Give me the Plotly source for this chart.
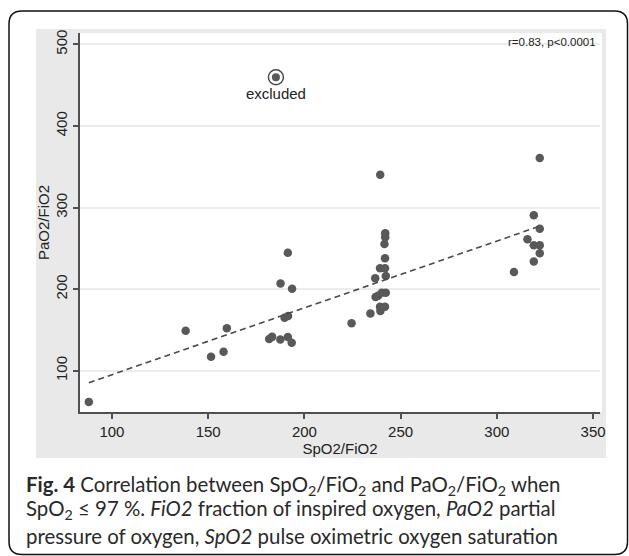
import numpy as np
import plotly.graph_objects as go

# ---- data ----
spo2_fio2 = [88.0, 138.3, 151.5, 158.0, 159.7, 181.7, 183.2, 187.5, 187.6, 189.7,
             191.5, 191.4, 191.4, 193.4, 193.6, 224.5, 234.3, 236.8, 237.0, 238.3,
             239.4, 239.3, 241.9, 242.3, 241.9, 241.6, 242.0, 242.0, 240.2, 242.3,
             239.3, 241.9, 239.5, 308.9, 315.9, 319.2, 319.2, 322.3, 322.3, 322.3,
             319.2, 322.3]
pao2_fio2 = [61.8, 149.0, 117.0, 123.3, 152.2, 138.8, 141.5, 138.3, 206.8, 164.8,
             167.0, 244.7, 141.3, 134.3, 200.6, 158.1, 170.2, 213.3, 190.3, 192.0,
             340.3, 225.5, 225.5, 216.0, 237.8, 255.3, 263.5, 268.4, 195.6, 195.6,
             178.5, 178.5, 173.2, 221.0, 261.1, 290.6, 253.7, 274.1, 253.7, 243.9,
             234.0, 360.8]
excluded_x = [185.2]
excluded_y = [459.8]
excluded_label = ["excluded"]
x_ticks = [100, 150, 200, 250, 300, 350]
y_ticks = [100, 200, 300, 400, 500]
stat_text = "r=0.83, p<0.0001"

# ---- geometry ----
W, H = 629, 556
L, R, T, B = 80, 29, 33, 144
PW, PH = W - L - R, H - T - B


def px(xp):
    return (xp - L) / PW


def py(yp):
    return (H - B - yp) / PH


# regression line through included points
slope, intercept = np.polyfit(spo2_fio2, pao2_fio2, 1)
xf = np.array([min(spo2_fio2), max(spo2_fio2)])
yf = slope * xf + intercept

fig = go.Figure()
fig.add_trace(go.Scatter(x=spo2_fio2, y=pao2_fio2, mode="markers",
                         marker=dict(size=8.5, color="#595959"), showlegend=False))
fig.add_trace(go.Scatter(x=xf, y=yf, mode="lines",
                         line=dict(color="#4a4a4a", width=1.6, dash="6px,4px"),
                         showlegend=False))
fig.add_trace(go.Scatter(x=excluded_x, y=excluded_y, mode="markers+text",
                         text=excluded_label, textposition="bottom center",
                         textfont=dict(family="Liberation Sans", size=15, color="#222"),
                         marker=dict(size=15, color="rgba(0,0,0,0)",
                                     line=dict(color="#4a4a4a", width=1.5)),
                         showlegend=False))
fig.add_trace(go.Scatter(x=excluded_x, y=excluded_y, mode="markers",
                         marker=dict(size=8, color="#595959"), showlegend=False))

axis_common = dict(showline=True, linecolor="#505050", linewidth=1.5,
                   ticks="outside", ticklen=5, tickwidth=1.5, tickcolor="#505050",
                   zeroline=False,
                   tickfont=dict(family="Liberation Sans", size=15, color="#222"))

fig.update_xaxes(range=[83.4, 353.6], tickvals=x_ticks, showgrid=False,
                 title=dict(text="SpO2/FiO2", standoff=2,
                            font=dict(family="Liberation Sans", size=15, color="#222")),
                 **axis_common)
fig.update_yaxes(range=[49.4, 514], tickvals=y_ticks, showgrid=True,
                 gridcolor="#ececec", gridwidth=1.5, tickangle=-90,
                 title=dict(text="PaO2/FiO2", standoff=0,
                            font=dict(family="Liberation Sans", size=15, color="#222")),
                 **axis_common)

shapes = [
    dict(type="rect", xref="paper", yref="paper", layer="below",
         x0=px(36), x1=px(606), y0=py(458), y1=py(29),
         fillcolor="#e9e9e9", line=dict(width=0)),
    dict(type="rect", xref="paper", yref="paper", layer="below",
         x0=px(80), x1=px(602), y0=py(412), y1=py(33),
         fillcolor="white", line=dict(width=0)),
]
# outer rounded frame
x0, x1, y0, y1, r = 9, 627.5, 11, 554.5, 13
path = (f"M {px(x0 + r)},{py(y0)} L {px(x1 - r)},{py(y0)} "
        f"Q {px(x1)},{py(y0)} {px(x1)},{py(y0 + r)} "
        f"L {px(x1)},{py(y1 - r)} Q {px(x1)},{py(y1)} {px(x1 - r)},{py(y1)} "
        f"L {px(x0 + r)},{py(y1)} Q {px(x0)},{py(y1)} {px(x0)},{py(y1 - r)} "
        f"L {px(x0)},{py(y0 + r)} Q {px(x0)},{py(y0)} {px(x0 + r)},{py(y0)} Z")
shapes.append(dict(type="path", xref="paper", yref="paper", path=path,
                   line=dict(color="#111", width=1.5), layer="above"))

cap_font = dict(family="Lato", size=20.4, color="#2a2a2a")
annotations = [
    dict(text=stat_text, xref="paper", yref="paper", x=px(598), y=py(42),
         xanchor="right", yanchor="middle", showarrow=False,
         font=dict(family="Liberation Sans", size=11.5, color="#222")),
    dict(text="<b>Fig. 4</b> Correlation between SpO<sub>2</sub>/FiO<sub>2</sub> and "
              "PaO<sub>2</sub>/FiO<sub>2</sub> when",
         xref="paper", yref="paper", x=px(24), y=py(485), xanchor="left",
         yanchor="middle", showarrow=False, font=cap_font),
    dict(text="SpO<sub>2</sub> ≤ 97 %. <i>FiO2</i> fraction of inspired oxygen, "
              "<i>PaO2</i> partial",
         xref="paper", yref="paper", x=px(24), y=py(510), xanchor="left",
         yanchor="middle", showarrow=False, font=cap_font),
    dict(text="pressure of oxygen, <i>SpO2</i> pulse oximetric oxygen saturation",
         xref="paper", yref="paper", x=px(24), y=py(536), xanchor="left",
         yanchor="middle", showarrow=False, font=cap_font),
]

fig.update_layout(width=W, height=H, margin=dict(l=L, r=R, t=T, b=B),
                  paper_bgcolor="white", plot_bgcolor="white",
                  shapes=shapes, annotations=annotations, showlegend=False)

fig.write_html("out.html", config={"displayModeBar": False},
               post_script="document.body.style.margin='0';"
                           "document.body.style.overflow='hidden';")
